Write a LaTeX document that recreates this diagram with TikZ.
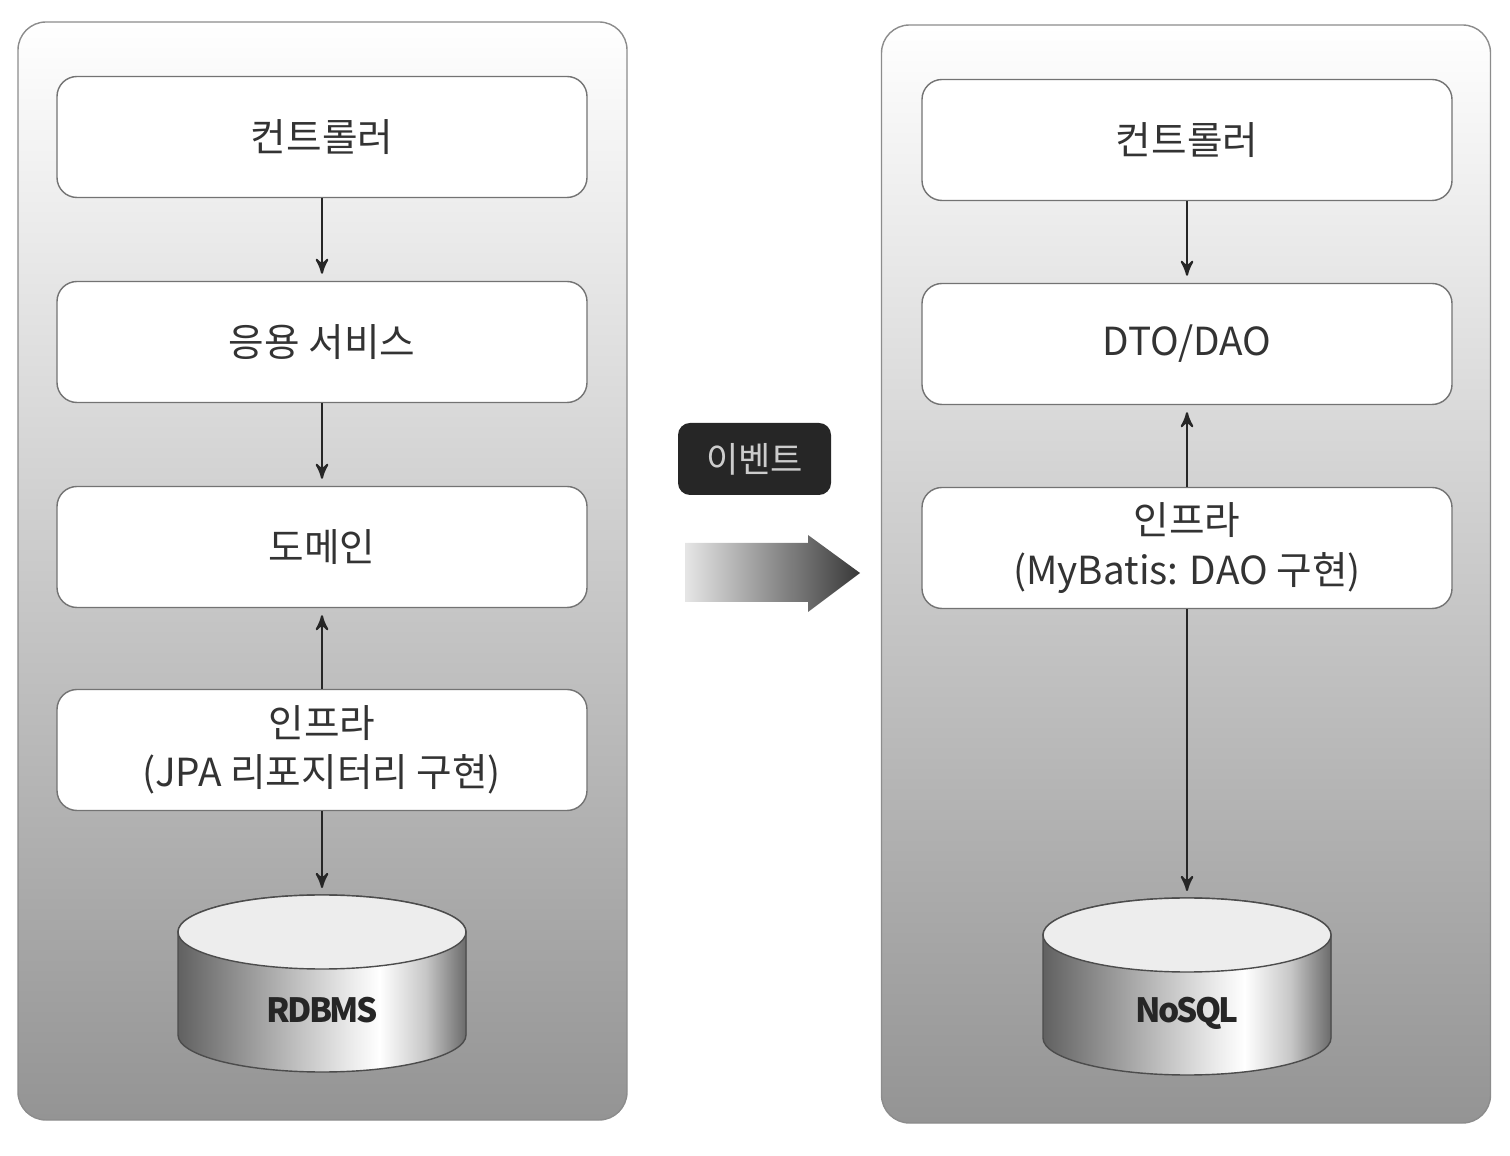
\documentclass[tikz,border=0pt]{standalone}
\usepackage{fontspec}
\setmainfont{Noto Sans CJK KR}
\usetikzlibrary{arrows,positioning,calc}
\pgfdeclarehorizontalshading{cylbody}{100bp}{color(0bp)=(black!62); color(25bp)=(black!62); color(40bp)=(black!35); color(55bp)=(black!8); color(60bp)=(white); color(68bp)=(black!22); color(75bp)=(black!58); color(100bp)=(black!58)}
\begin{document}
\begin{tikzpicture}[>=stealth', semithick,
    panel/.style={rounded corners=0.28cm,draw=black!45,thin,top color=white,bottom color=black!42,minimum width=6.09cm,minimum height=10.98cm},
    layer/.style={rounded corners=0.2cm,draw=black!55,thin,fill=white,minimum width=5.30cm,minimum height=1.21cm,align=center,text=black!80,font=\fontsize{11pt}{14pt}\selectfont},
    event/.style={rounded corners=0.12cm,fill=black!85,text=black!20,minimum width=1.53cm,minimum height=0.72cm,font=\fontsize{10pt}{12pt}\selectfont},
    dblabel/.style={text=black!85,font=\fontsize{9.5pt}{12pt}\selectfont\bfseries\addfontfeatures{LetterSpace=-8}},
    flow/.style={->,black!85,shorten >=2pt}]
  \useasboundingbox (0,0) rectangle (15.10,-11.56);
  % panels
  \node[panel] (lpanel) at (3.225,-5.71) {};
  \node[panel] (rpanel) at (11.86,-5.74) {};
  % before: JPA
  \node[layer] at (3.22,-1.37) (lctrl) {컨트롤러};
  \node[layer] at (3.22,-3.42) (lsvc) {응용 서비스};
  \node[layer] at (3.22,-5.47) (ldom) {도메인};
  \node[layer] at (3.22,-7.50) (linfra) {인프라\\(JPA 리포지터리 구현)};
  % after: MyBatis
  \node[layer] at (11.87,-1.40) (rctrl) {컨트롤러};
  \node[layer] at (11.87,-3.44) (rdto) {DTO/DAO};
  \node[layer] at (11.87,-5.48) (rinfra) {인프라\\(MyBatis: DAO 구현)};
  % databases
  \foreach \cx/\cy/\nm/\lbl in {3.22/-9.32/rdbms/RDBMS, 11.87/-9.35/nosql/NoSQL} {
    \fill[shading=cylbody,draw=black!70,thin] (\cx-1.44,\cy) -- (\cx-1.44,\cy-1.03)
      arc (180:360:1.44 and 0.37) -- (\cx+1.44,\cy) arc (0:180:1.44 and 0.37) -- cycle;
    \draw[thin,draw=black!70,fill=black!7] (\cx,\cy) ellipse (1.44 and 0.37);
    \coordinate (\nm-top) at (\cx,\cy+0.37);
    \node[dblabel] at (\cx,\cy-0.78) (\nm) {\lbl};
  }
  % event
  \node[event] at (7.545,-4.59) (ev) {이벤트};
  \shade[left color=black!10,right color=black!78] (6.85,-5.43) -- (8.08,-5.43) -- (8.08,-5.35)
    -- (8.60,-5.73) -- (8.08,-6.12) -- (8.08,-6.02) -- (6.85,-6.02) -- cycle;
  % arrows
  \draw[flow] (lctrl) -- (lsvc);
  \draw[flow] (lsvc) -- (ldom);
  \draw[flow] (linfra) -- (ldom);
  \draw[flow] (linfra) -- (rdbms-top);
  \draw[flow] (rctrl) -- (rdto);
  \draw[flow] (rinfra) -- (rdto);
  \draw[flow] (rinfra) -- (nosql-top);
\end{tikzpicture}
\end{document}
